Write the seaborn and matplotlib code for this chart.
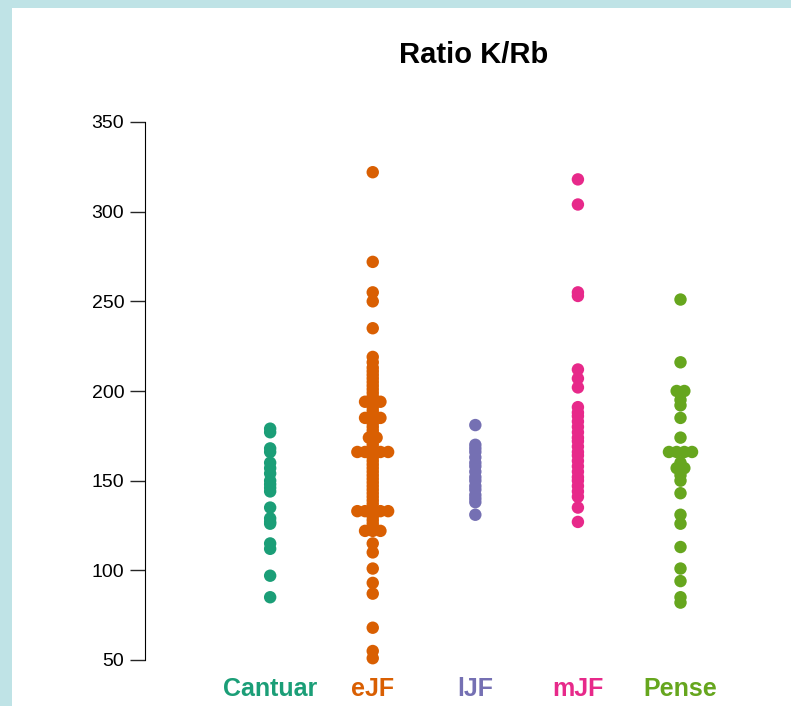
import matplotlib
matplotlib.use('Agg')
import matplotlib.pyplot as plt
import seaborn as sns
import pandas as pd
from matplotlib.patches import Rectangle

groups = ['Cantuar', 'eJF', 'lJF', 'mJF', 'Pense']
colors = ['#1b9e77', '#d95f02', '#7570b3', '#e7298a', '#66a61e']

cantuar = [179, 177, 168, 166, 160, 157, 154, 150, 148, 146, 144, 135, 129, 127, 126, 115, 112, 97, 85]
ejf = [322, 272, 255, 250, 235, 219, 216, 213, 211, 209, 207, 205, 203, 201, 199, 197, 194, 194, 194,
       191, 189, 187, 185, 185, 185, 182, 180, 178, 176, 174, 174, 172, 170, 166, 166, 166, 166, 166,
       163, 161, 159, 157, 155, 153, 151, 149, 147, 145, 143, 141, 139, 137, 133, 133, 133, 133, 133,
       130, 128, 126, 124, 122, 122, 122, 115, 110, 101, 93, 87, 68, 55, 51]
ljf = [181, 170, 168, 166, 163, 160, 158, 155, 152, 150, 147, 145, 142, 140, 138, 131]
mjf = [318, 304, 255, 253, 212, 207, 202, 191, 188, 186, 183, 180, 177, 174, 172, 169, 166, 164, 161, 158,
       155, 152, 150, 147, 144, 141, 135, 127]
pense = [251, 216, 200, 200, 195, 192, 185, 174, 166, 166, 166, 166, 160, 157, 157, 153, 150, 143, 131, 126,
         113, 101, 94, 85, 82]

values = [cantuar, ejf, ljf, mjf, pense]
rows = []
for i, (g, v) in enumerate(zip(groups, values)):
    s = pd.Series(v)
    cnt = s.map(s.value_counts())
    rank = s.groupby(s).cumcount()
    for val, n, r in zip(s, cnt, rank):
        rows.append({'group': g, 'ratio': val, 'xpos': i + (r - (n - 1) / 2) * 0.075})
df = pd.DataFrame(rows)

sns.set_style('white')
plt.rcParams['font.family'] = ['Liberation Sans', 'DejaVu Sans']

fig = plt.figure(figsize=(7.91, 7.06), dpi=100)
fig.patch.set_facecolor('#bfe3e6')
bg = fig.add_axes([12 / 791, 0, 1 - 12 / 791, 1 - 8 / 706], zorder=-5)
bg.axis('off')
bg.add_patch(Rectangle((0, 0), 1, 1, transform=bg.transAxes, facecolor='white', edgecolor='none'))
ax = fig.add_axes([145 / 791, 46 / 706, 595 / 791, 538 / 706])
ax.set_facecolor('none')

sns.scatterplot(data=df, x='xpos', y='ratio', hue='group', palette=colors, hue_order=groups,
                s=80, linewidth=0, legend=False, ax=ax, clip_on=False)

ax.set_xlim(-1.22, 4.58)
ax.set_ylim(50, 350)
ax.set_yticks([50, 100, 150, 200, 250, 300, 350])
ax.tick_params(axis='y', labelsize=14, labelcolor='black', length=11, width=1, pad=4,
               left=True, direction='out')
ax.set_xticks(range(5))
ax.set_xticklabels(groups, fontsize=18, fontweight='bold')
for lab, c in zip(ax.get_xticklabels(), colors):
    lab.set_color(c)
ax.tick_params(axis='x', length=0, pad=12)
for s in ['top', 'right', 'bottom']:
    ax.spines[s].set_visible(False)
ax.spines['left'].set_color('black')
ax.set_xlabel('')
ax.set_ylabel('')
fig.text(474 / 791, 1 - 55 / 706, 'Ratio K/Rb', ha='center', va='center', fontsize=21,
         fontweight='bold', color='black')

fig.savefig('out.png', dpi=100, facecolor=fig.get_facecolor())
